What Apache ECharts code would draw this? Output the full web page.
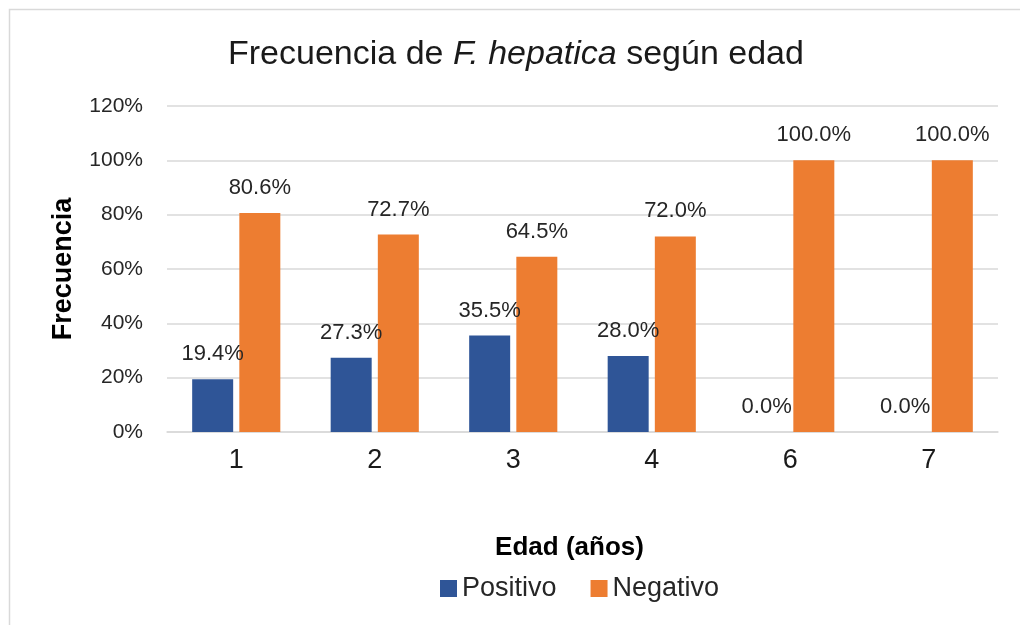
<!DOCTYPE html>
<html><head><meta charset="utf-8">
<script src="https://cdn.jsdelivr.net/npm/echarts@6/dist/echarts.min.js"></script>
<style>html,body{margin:0;padding:0;background:#fff}#c{width:1020px;height:625px}</style>
</head><body><div id="c"></div>
<script>
const categories = ['1', '2', '3', '4', '6', '7'];
const positivo = [0.194, 0.273, 0.355, 0.28, 0.0, 0.0];
const negativo = [0.806, 0.727, 0.645, 0.72, 1.0, 1.0];
const seriesNames = ['Positivo', 'Negativo'];
const yMax = 1.2, yStep = 0.2;

const FONT = '"Liberation Sans", Arial, sans-serif';
const chart = echarts.init(document.getElementById('c'), null, {renderer: 'canvas'});
const labelCfg = {
  show: true, position: 'top', distance: 14,
  fontFamily: FONT, fontSize: 22, color: '#262626',
  formatter: p => (p.value * 100).toFixed(1) + '%'
};
chart.setOption({
  animation: false,
  backgroundColor: '#fff',
  title: {
    text: '{n|Frecuencia de }{i|F. hepatica}{n| según edad}',
    left: 223, top: 33,
    textStyle: {
      fontWeight: 'normal',
      rich: {
        n: {fontFamily: FONT, fontSize: 34, color: '#1a1a1a', fontWeight: 'normal'},
        i: {fontFamily: FONT, fontSize: 34, color: '#1a1a1a', fontWeight: 'normal', fontStyle: 'italic'}
      }
    }
  },
  graphic: [
    {type: 'rect', shape: {x: 9.5, y: 9.5, width: 1030, height: 640},
     style: {fill: 'none', stroke: '#d9d9d9', lineWidth: 1.5}, silent: true}
  ],
  legend: {
    data: seriesNames, left: 435, top: 570,
    itemWidth: 17, itemHeight: 17, itemGap: 34, itemTextGap: 9,
    icon: 'rect',
    textStyle: {fontFamily: FONT, fontSize: 27, color: '#262626'}
  },
  grid: {left: 167, right: 22, top: 106, bottom: 193, containLabel: false},
  xAxis: {
    type: 'category', data: categories,
    name: 'Edad (años)', nameLocation: 'middle', nameGap: 103,
    nameTextStyle: {fontFamily: FONT, fontSize: 26, fontWeight: 'bold', color: '#000', padding: [0, 26, 0, 0]},
    axisLine: {lineStyle: {color: '#d9d9d9', width: 1.5}},
    axisTick: {show: false},
    axisLabel: {fontFamily: FONT, fontSize: 27, color: '#1a1a1a', margin: 15}
  },
  yAxis: {
    type: 'value', min: 0, max: yMax, interval: yStep,
    name: 'Frecuencia', nameLocation: 'middle', nameGap: 90,
    nameTextStyle: {fontFamily: FONT, fontSize: 27, fontWeight: 'bold', color: '#000'},
    axisLine: {show: false}, axisTick: {show: false},
    splitLine: {lineStyle: {color: '#d9d9d9', width: 1.5}},
    axisLabel: {fontFamily: FONT, fontSize: 21, color: '#262626', margin: 24,
      formatter: v => Math.round(v * 100) + '%'}
  },
  series: [
    {name: seriesNames[0], type: 'bar', data: positivo, barWidth: 41, barGap: '15%',
     itemStyle: {color: '#2F5597'}, label: labelCfg},
    {name: seriesNames[1], type: 'bar', data: negativo, barWidth: 41, barGap: '15%',
     itemStyle: {color: '#ED7D31'}, label: labelCfg}
  ]
});
</script></body></html>
